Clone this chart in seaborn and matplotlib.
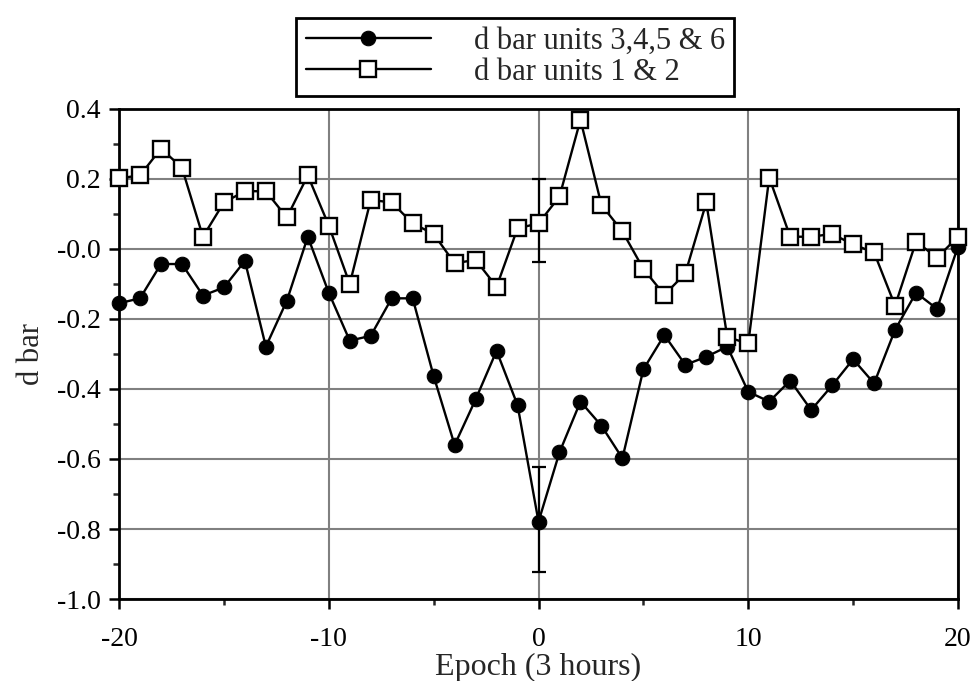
import numpy as np
import pandas as pd
import matplotlib
matplotlib.use('Agg')
import matplotlib.pyplot as plt
import seaborn as sns
from matplotlib.ticker import MultipleLocator, FixedLocator, FixedFormatter

# epochs, 3 hour steps
epoch = list(range(-20, 21))

units_3456 = [-0.155, -0.141, -0.043, -0.043, -0.133, -0.110, -0.034, -0.279, -0.148, 0.035,
              -0.125, -0.262, -0.248, -0.141, -0.141, -0.363, -0.560, -0.430, -0.291, -0.446,
              -0.779, -0.581, -0.436, -0.505, -0.598, -0.344, -0.246, -0.331, -0.308, -0.279,
              -0.408, -0.436, -0.376, -0.460, -0.390, -0.315, -0.384, -0.231, -0.125, -0.171,
              0.007]

units_12 = [0.202, 0.210, 0.287, 0.232, 0.035, 0.133, 0.165, 0.165, 0.090, 0.210,
            0.067, -0.100, 0.140, 0.133, 0.073, 0.043, -0.041, -0.031, -0.108, 0.059,
            0.073, 0.150, 0.369, 0.126, 0.050, -0.057, -0.131, -0.070, 0.133, -0.252,
            -0.270, 0.204, 0.035, 0.035, 0.043, 0.013, -0.010, -0.162, 0.021, -0.025,
            0.035]

# error bars at epoch 0 (lower, upper)
err_3456 = (-0.922, -0.624)
err_12 = (-0.036, 0.200)

label_3456 = 'd bar units 3,4,5 & 6'
label_12 = 'd bar units 1 & 2'
y_ticks = [0.4, 0.2, 0.0, -0.2, -0.4, -0.6, -0.8, -1.0]
y_ticklabels = ['0.4', '0.2', '-0.0', '-0.2', '-0.4', '-0.6', '-0.8', '-1.0']

sns.set_style('white')
plt.rcParams['font.family'] = ['Liberation Serif', 'DejaVu Serif']
plt.rcParams['axes.unicode_minus'] = False

df = pd.DataFrame({'epoch': epoch, 'a': units_3456, 'b': units_12})

fig = plt.figure(figsize=(9.71, 6.81), dpi=100)
ax = fig.add_axes([0.1226, 0.1204, 0.864, 0.7196])

# error bars drawn first so the markers sit on top
ax.errorbar([0], [units_3456[20]],
            yerr=[[units_3456[20] - err_3456[0]], [err_3456[1] - units_3456[20]]],
            fmt='none', ecolor='black', elinewidth=1.6, capsize=5, capthick=1.6, zorder=3)
ax.errorbar([0], [units_12[20]],
            yerr=[[units_12[20] - err_12[0]], [err_12[1] - units_12[20]]],
            fmt='none', ecolor='black', elinewidth=1.6, capsize=5, capthick=1.6, zorder=3)

sns.lineplot(data=df, x='epoch', y='a', ax=ax, color='black', lw=1.7, marker='o',
             markersize=10.5, markerfacecolor='black', markeredgecolor='black',
             label=label_3456, zorder=4, clip_on=False)
sns.lineplot(data=df, x='epoch', y='b', ax=ax, color='black', lw=1.7, marker='s',
             markersize=12, markerfacecolor='white', markeredgecolor='black',
             markeredgewidth=1.7, label=label_12, zorder=5, clip_on=False)

ax.set_xlim(-20, 20)
ax.set_ylim(-1.0, 0.4)

ax.xaxis.set_major_locator(MultipleLocator(10))
ax.xaxis.set_minor_locator(MultipleLocator(5))
ax.yaxis.set_major_locator(FixedLocator(y_ticks))
ax.yaxis.set_major_formatter(FixedFormatter(y_ticklabels))
ax.yaxis.set_minor_locator(MultipleLocator(0.1))

ax.grid(True, which='major', color='#808080', lw=1.5)
ax.set_axisbelow(True)

for s in ax.spines.values():
    s.set_color('black')
    s.set_linewidth(2)

ax.tick_params(axis='both', which='major', direction='out', length=7, width=1.8,
               labelsize=20, colors='black', left=True, bottom=True)
ax.tick_params(axis='both', which='minor', direction='out', length=4, width=1.8,
               left=True, bottom=True)
ax.tick_params(axis='x', which='major', pad=13)
ax.tick_params(axis='y', which='major', pad=6)

ax.set_xlabel('Epoch (3 hours)', fontsize=23, labelpad=1)
ax.set_ylabel('d bar', fontsize=22, labelpad=8)

leg = fig.legend(loc='upper center', bbox_to_anchor=(0.5305, 0.996), ncol=1,
                 fontsize=22, handlelength=4.1, handletextpad=1.4, borderpad=0.3,
                 labelspacing=0.05, fancybox=False, frameon=True, edgecolor='black',
                 framealpha=1)
leg.get_frame().set_linewidth(2)
if ax.get_legend():
    ax.get_legend().remove()

fig.savefig('out.png', dpi=100)
